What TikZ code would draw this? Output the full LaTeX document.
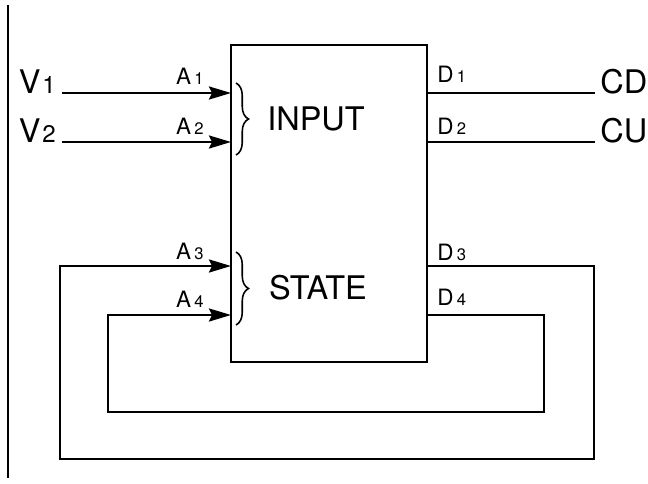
\documentclass[tikz,border=0pt]{standalone}
\usepackage{fontspec}
\setmainfont{TeX Gyre Heros}
\usetikzlibrary{arrows.meta, decorations.pathreplacing}
\newcommand{\idx}[2][0.15em]{\kern#1\scalebox{0.74}{#2}}

\begin{document}
\begin{tikzpicture}[x=0.02cm, y=-0.02cm,
    sig/.style={line width=1.4pt},
    arr/.style={sig, -{Stealth[length=0.44cm, width=0.26cm, inset=0.06cm]}},
    bigtext/.style={font=\fontsize{18.5}{20}\selectfont, inner sep=0pt},
    pintext/.style={font=\fontsize{12.8}{14}\selectfont, inner sep=0pt},
    brc/.style={line width=0.9pt, decorate, decoration={brace, amplitude=0.25cm}}]
    \useasboundingbox (0,0) rectangle (648,483);

    % Left rule
    \draw[line width=1.1pt] (8,5) -- (8,478);

    % Controller block
    \node[draw, line width=1.6pt, minimum width=3.92cm, minimum height=6.34cm, inner sep=0pt] (ctrl) at (329,203.5) {};

    % Ports on the block
    \coordinate (a1) at (231,93);
    \coordinate (a2) at (231,142);
    \coordinate (a3) at (231,266);
    \coordinate (a4) at (231,315);
    \coordinate (d1) at (427,93);
    \coordinate (d2) at (427,142);
    \coordinate (d3) at (427,266);
    \coordinate (d4) at (427,315);

    % Signal names
    \node[bigtext, anchor=base east, inner xsep=0.12cm] (v1) at (62,93) {V\idx[0.05em]{1}};
    \node[bigtext, anchor=base east, inner xsep=0.12cm] (v2) at (62,142) {V\idx[0.05em]{2}};
    \node[bigtext, anchor=base west, inner xsep=0.1cm] (cd) at (595,93) {CD};
    \node[bigtext, anchor=base west, inner xsep=0.1cm] (cu) at (595,142) {CU};

    % Pin labels
    \node[pintext, anchor=base east] (la1) at (204,85) {A\idx{1}};
    \node[pintext, anchor=base east] (la2) at (204,134) {A\idx{2}};
    \node[pintext, anchor=base east] (la3) at (204,259) {A\idx{3}};
    \node[pintext, anchor=base east] (la4) at (204,307) {A\idx{4}};
    \node[pintext, anchor=base west] (ld1) at (437,83) {D\idx{1}};
    \node[pintext, anchor=base west] (ld2) at (437,134) {D\idx{2}};
    \node[pintext, anchor=base west] (ld3) at (437,260) {D\idx{3}};
    \node[pintext, anchor=base west] (ld4) at (437,305) {D\idx{4}};

    % Groups
    \draw[brc] (236,83) -- (236,155);
    \draw[brc] (236,252) -- (236,325);
    \node[bigtext] (inlbl) at (316,119) {INPUT};
    \node[bigtext] (stlbl) at (318,288) {STATE};

    % Inputs and outputs
    \draw[arr] (v1.base east) -- (a1);
    \draw[arr] (v2.base east) -- (a2);
    \draw[sig] (d1) -- (cd.base west);
    \draw[sig] (d2) -- (cu.base west);

    % Feedback loops
    \coordinate (r3) at (594,459);
    \coordinate (l3) at (60,266);
    \coordinate (r4) at (544,412);
    \coordinate (l4) at (108,315);
    \draw[arr] (d3) -| (r3) -| (l3) -- (a3);
    \draw[arr] (d4) -| (r4) -| (l4) -- (a4);
\end{tikzpicture}
\end{document}
